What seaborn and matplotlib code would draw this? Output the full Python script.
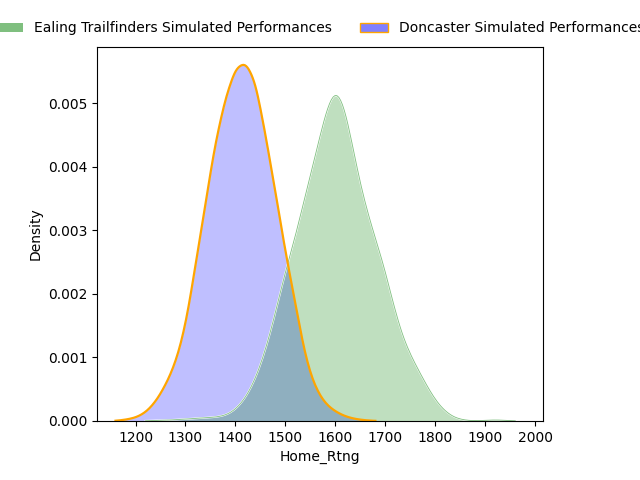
import numpy as np
import pandas as pd
import seaborn as sns
import matplotlib.pyplot as plt
from matplotlib.patches import Patch

# Оценки плотности (шаг 20 очков рейтинга)
doncaster_rtng = [1160, 1180, 1200, 1220, 1240, 1260, 1280, 1300, 1320, 1340,
                  1360, 1380, 1400, 1420, 1440, 1460, 1480, 1500, 1520, 1540,
                  1560, 1580, 1600, 1620, 1640, 1660, 1680]
doncaster_dens = [0.0, 0.00002, 0.00005, 0.00013, 0.0003, 0.00057, 0.00092, 0.0015,
                  0.0025, 0.0035, 0.0045, 0.0052, 0.0057, 0.0058, 0.0055, 0.0046,
                  0.0037, 0.0027, 0.0019, 0.0010, 0.00052, 0.00027, 0.00015,
                  0.00007, 0.00003, 0.00001, 0.0]

ealing_rtng = [1220, 1240, 1260, 1280, 1300, 1320, 1340, 1360, 1380, 1400,
               1420, 1440, 1460, 1480, 1500, 1520, 1540, 1560, 1580, 1600,
               1620, 1640, 1660, 1680, 1700, 1720, 1740, 1760, 1780, 1800,
               1820, 1840, 1860, 1880, 1900, 1920, 1940, 1960]
ealing_dens = [0.0, 0.00001, 0.00001, 0.00002, 0.00003, 0.00004, 0.00005, 0.00006,
               0.00008, 0.00017, 0.00035, 0.00065, 0.0011, 0.0017, 0.0024, 0.0029,
               0.0036, 0.0042, 0.0049, 0.0054, 0.0050, 0.0041, 0.0034, 0.0029,
               0.0024, 0.0017, 0.0012, 0.0009, 0.0006, 0.00032, 0.00014, 0.00004,
               0.00001, 0.0, 0.00001, 0.00002, 0.00001, 0.0]

ealing = pd.DataFrame({'Home_Rtng': ealing_rtng, 'w': ealing_dens})
doncaster = pd.DataFrame({'Home_Rtng': doncaster_rtng, 'w': doncaster_dens})

fig = plt.figure(figsize=(6.4, 4.8), dpi=100)
ax = fig.add_axes([0.1516, 0.123, 0.6965, 0.779])

bw = 0.3
kw = dict(x='Home_Rtng', weights='w', bw_adjust=bw, cut=0, ax=ax)
sns.kdeplot(data=doncaster, fill=True, color='blue', alpha=0.25, linewidth=0, **kw)
sns.kdeplot(data=ealing, fill=True, color='green', alpha=0.25, linewidth=0, **kw)
sns.kdeplot(data=ealing, color='white', linewidth=1.3, **kw)
sns.kdeplot(data=ealing, color='green', alpha=0.5, linewidth=0.6, **kw)
sns.kdeplot(data=doncaster, color='orange', linewidth=1.6, **kw)

ax.set_xlim(1123, 2015)
ax.set_ylim(0, 0.00588)
ax.set_xlabel('Home_Rtng')
ax.set_ylabel('Density')

handles = [
    Patch(facecolor='green', alpha=0.5, edgecolor='none'),
    Patch(facecolor=(0.5, 0.5, 1.0), edgecolor='orange'),
]
ax.legend(handles, ['Ealing Trailfinders Simulated Performances',
                    'Doncaster Simulated Performances'],
          loc='center', bbox_to_anchor=(0.5, 1.05), ncol=2, frameon=False)

plt.savefig('out.png', dpi=100)
